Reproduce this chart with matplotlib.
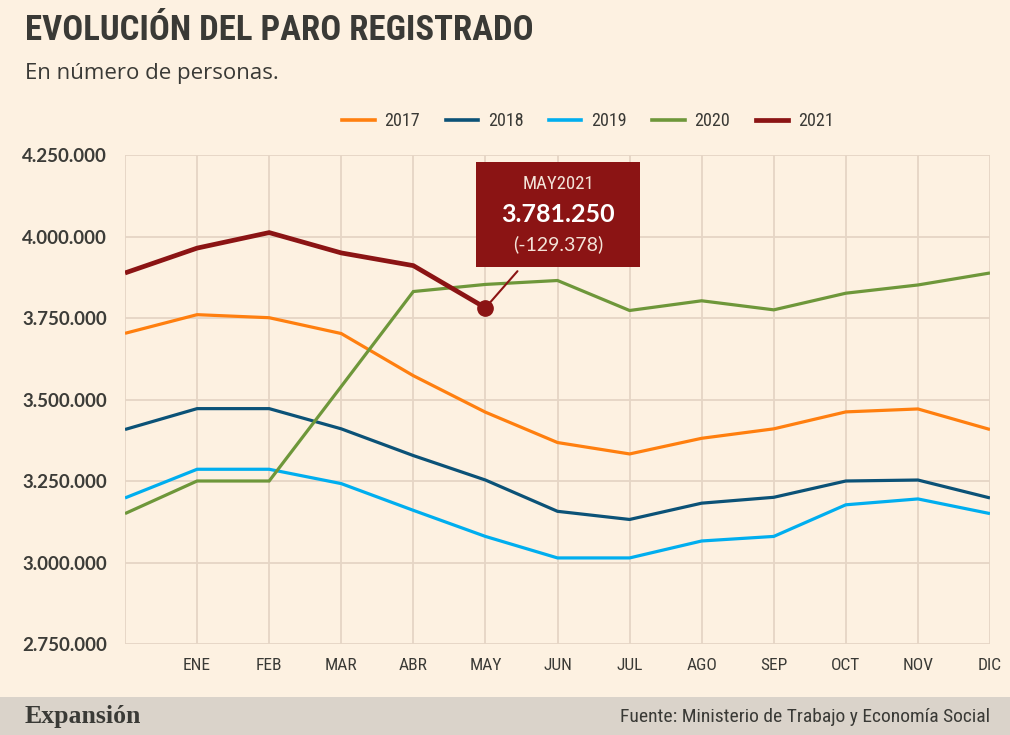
import matplotlib
matplotlib.use('Agg')
import matplotlib.pyplot as plt
from matplotlib import font_manager
from matplotlib.patches import Rectangle
from matplotlib.lines import Line2D

# data, index 0 = December of the previous year
months = ['', 'ENE', 'FEB', 'MAR', 'ABR', 'MAY', 'JUN', 'JUL', 'AGO', 'SEP', 'OCT', 'NOV', 'DIC']
paro_2017 = [3702974, 3760231, 3750876, 3702317, 3573036, 3461128, 3368000, 3333000, 3381000,
             3410000, 3462000, 3471000, 3408000]
paro_2018 = [3408000, 3472000, 3472000, 3410000, 3328000, 3253000, 3157000, 3132000, 3182000,
             3200000, 3250000, 3253000, 3198000]
paro_2019 = [3198000, 3286000, 3286000, 3242000, 3160000, 3080000, 3014000, 3014000, 3066000,
             3080000, 3177000, 3195000, 3150000]
paro_2020 = [3150000, 3250000, 3250000, 3540000, 3831203, 3853000, 3865000, 3773034, 3802814,
             3775000, 3826043, 3851312, 3888137]
paro_2021 = [3888137, 3964353, 4012000, 3949640, 3910628, 3781250]
years = ['2017', '2018', '2019', '2020', '2021']
colors = ['#FF7F0F', '#0B5277', '#00AEEF', '#6E973A', '#8B1414']
y_ticks = [2750000, 3000000, 3250000, 3500000, 3750000, 4000000, 4250000]

highlight_label = 'MAY2021'
highlight_value = '3.781.250'
highlight_diff = '(-129.378)'

BG = '#FDF1E1'
GRID = '#E5D5C5'
TXT = '#3A3A36'


def pick_font(names, fallback='DejaVu Sans'):
    available = {f.name for f in font_manager.fontManager.ttflist}
    for n in names:
        if n in available:
            return n
    return fallback


narrow = pick_font(['Liberation Sans Narrow', 'DejaVu Sans Condensed', 'Roboto Condensed'])
serif = pick_font(['Liberation Serif', 'DejaVu Serif'])


def thousands(v, pos=None):
    return f'{int(v):,}'.replace(',', '.')


fig = plt.figure(figsize=(10.10, 7.35), dpi=100, facecolor=BG)
ax = fig.add_axes([125 / 1010, 1 - 644 / 735, 865 / 1010, 489 / 735])
ax.set_facecolor(BG)

series = [paro_2017, paro_2018, paro_2019, paro_2020, paro_2021]
for yr, vals, col in zip(years, series, colors):
    lw = 3.4 if yr == '2021' else 2.3
    ax.plot(range(len(vals)), vals, color=col, lw=lw, solid_joinstyle='miter',
            solid_capstyle='butt', zorder=4 if yr == '2021' else 3, label=yr)

ax.set_xlim(0, 12)
ax.set_ylim(y_ticks[0], y_ticks[-1])
ax.set_xticks(range(13))
ax.set_xticklabels(months, fontfamily=narrow, fontsize=12.5, color=TXT)
ax.set_yticks(y_ticks)
ax.yaxis.set_major_formatter(plt.FuncFormatter(thousands))
for lab in ax.get_yticklabels():
    lab.set_fontfamily('Lato')
    lab.set_fontweight('bold')
    lab.set_fontsize(13.5)
    lab.set_color('#3C3C38')
    lab.set_horizontalalignment('left')
# pad is in points: label starts about 103 px left of the axes
ax.tick_params(axis='y', length=0, pad=74)
ax.tick_params(axis='x', length=0, pad=10)
ax.grid(True, color=GRID, lw=1.3, zorder=0)
for s in ax.spines.values():
    s.set_visible(False)

# highlighted point
last = len(paro_2021) - 1
ax.plot(last, paro_2021[-1], 'o', color=colors[-1], ms=11, zorder=6)
ax.annotate('', xy=(last, paro_2021[-1]), xytext=(last + 0.47, 3900000),
            arrowprops=dict(arrowstyle='-', color=colors[-1], lw=1.5), zorder=5)
box_x0, box_y0 = 476 / 1010, 1 - 267 / 735
fig.patches.append(Rectangle((box_x0, box_y0), 164 / 1010, 105 / 735,
                             transform=fig.transFigure, facecolor=colors[-1],
                             edgecolor='none', zorder=5))
cx = 558 / 1010
fig.text(cx, 1 - 184 / 735, highlight_label, ha='center', va='center', color='#F3E3D8',
         fontfamily=narrow, fontsize=13.5, zorder=7)
fig.text(cx, 1 - 215 / 735, highlight_value, ha='center', va='center', color='white',
         fontfamily='Lato', fontweight='bold', fontsize=18, zorder=7)
fig.text(cx, 1 - 244 / 735, highlight_diff, ha='center', va='center', color='#F3E3D8',
         fontfamily='Lato', fontsize=14, zorder=7)

# legend
handles = [Line2D([], [], color=c, lw=3.4 if y == '2021' else 2.6) for y, c in zip(years, colors)]
leg = fig.legend(handles, years, loc='center', bbox_to_anchor=(588 / 1010, 1 - 121 / 735),
                 ncol=5, frameon=False, handlelength=1.8, handletextpad=0.55, columnspacing=1.4,
                 prop={'family': narrow, 'size': 13})
for t in leg.get_texts():
    t.set_color(TXT)

# titles
fig.text(25 / 1010, 1 - 31 / 735, 'EVOLUCIÓN DEL PARO REGISTRADO', ha='left', va='center',
         fontfamily=narrow, fontweight='bold', fontsize=25, color=TXT)
fig.text(25 / 1010, 1 - 73 / 735, 'En número de personas.', ha='left', va='center',
         fontfamily='Open Sans', fontsize=16, color=TXT)

# footer
fig.patches.append(Rectangle((0, 0), 1, 38 / 735, transform=fig.transFigure,
                             facecolor='#DAD3CA', edgecolor='none', zorder=0))
fig.text(25 / 1010, 18 / 735, 'Expansión', ha='left', va='center', fontfamily=serif,
         fontweight='bold', fontsize=18.5, color='#3A3A36')
fig.text(990 / 1010, 18 / 735, 'Fuente: Ministerio de Trabajo y Economía Social', ha='right',
         va='center', fontfamily=narrow, fontsize=14, color=TXT)

fig.savefig('out.png', dpi=100, facecolor=BG)
